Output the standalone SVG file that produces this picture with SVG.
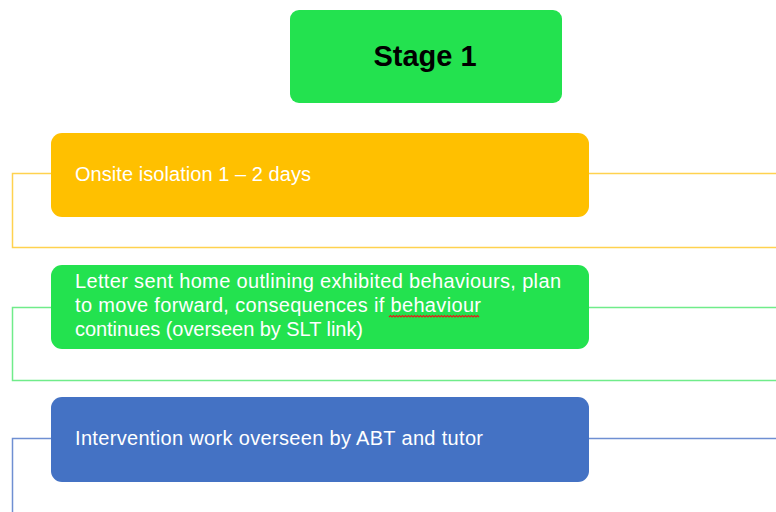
<svg xmlns="http://www.w3.org/2000/svg" width="776" height="512" viewBox="0 0 776 512">
<style>
.box{stroke:none}
.lbl{font-family:"Liberation Sans",Arial,sans-serif;font-size:20px;fill:#FFFFFF}
.title{font-family:"Liberation Sans",Arial,sans-serif;font-size:29px;font-weight:bold;fill:#000000}
.conn{fill:none;stroke-width:1.5}
</style>
<rect width="776" height="512" fill="#FFFFFF"/>
<g id="connectors">
  <path class="conn" stroke="#FFD24F" d="M51,173.5 H12.5 V247.5 H776"/>
  <path class="conn" stroke="#FFD24F" d="M589,173.5 H776"/>
  <path class="conn" stroke="#70EC8A" d="M51,307.5 H12.5 V380.5 H776"/>
  <path class="conn" stroke="#70EC8A" d="M589,307.5 H776"/>
  <path class="conn" stroke="#6F8FD2" d="M51,438.5 H12.5 V512"/>
  <path class="conn" stroke="#6F8FD2" d="M589,438.5 H776"/>
</g>
<g id="stage1">
  <rect class="box" x="290" y="10" width="272" height="93" rx="9" fill="#23E24F"/>
  <text class="title" x="425" y="66" text-anchor="middle">Stage 1</text>
</g>
<g id="onsite">
  <rect class="box" x="51" y="133" width="538" height="84" rx="11" fill="#FFC000"/>
  <text class="lbl" x="75" y="181" textLength="236" lengthAdjust="spacing">Onsite isolation 1 – 2 days</text>
</g>
<g id="letter">
  <rect class="box" x="51" y="265" width="538" height="84" rx="11" fill="#23E24F"/>
  <text class="lbl" x="75" y="288" textLength="486" lengthAdjust="spacing">Letter sent home outlining exhibited behaviours, plan</text>
  <text class="lbl" x="75" y="312" textLength="406" lengthAdjust="spacing">to move forward, consequences if behaviour</text>
  <text class="lbl" x="75" y="336" textLength="288" lengthAdjust="spacing">continues (overseen by SLT link)</text>
  <path d="M389,317 l1.5,-1.5 l1.5,1.5 l1.5,-1.5 l1.5,1.5 l1.5,-1.5 l1.5,1.5 l1.5,-1.5 l1.5,1.5 l1.5,-1.5 l1.5,1.5 l1.5,-1.5 l1.5,1.5 l1.5,-1.5 l1.5,1.5 l1.5,-1.5 l1.5,1.5 l1.5,-1.5 l1.5,1.5 l1.5,-1.5 l1.5,1.5 l1.5,-1.5 l1.5,1.5 l1.5,-1.5 l1.5,1.5 l1.5,-1.5 l1.5,1.5 l1.5,-1.5 l1.5,1.5 l1.5,-1.5 l1.5,1.5 l1.5,-1.5 l1.5,1.5 l1.5,-1.5 l1.5,1.5 l1.5,-1.5 l1.5,1.5 l1.5,-1.5 l1.5,1.5 l1.5,-1.5 l1.5,1.5 l1.5,-1.5 l1.5,1.5 l1.5,-1.5 l1.5,1.5 l1.5,-1.5 l1.5,1.5 l1.5,-1.5 l1.5,1.5 l1.5,-1.5 l1.5,1.5 l1.5,-1.5 l1.5,1.5 l1.5,-1.5 l1.5,1.5 l1.5,-1.5 l1.5,1.5 l1.5,-1.5 l1.5,1.5 l1.5,-1.5 l1.5,1.5" fill="none" stroke="#E0201C" stroke-width="1.2"/>
</g>
<g id="intervention">
  <rect class="box" x="51" y="397" width="538" height="85" rx="11" fill="#4472C4"/>
  <text class="lbl" x="75" y="445" textLength="408" lengthAdjust="spacing">Intervention work overseen by ABT and tutor</text>
</g>
</svg>
